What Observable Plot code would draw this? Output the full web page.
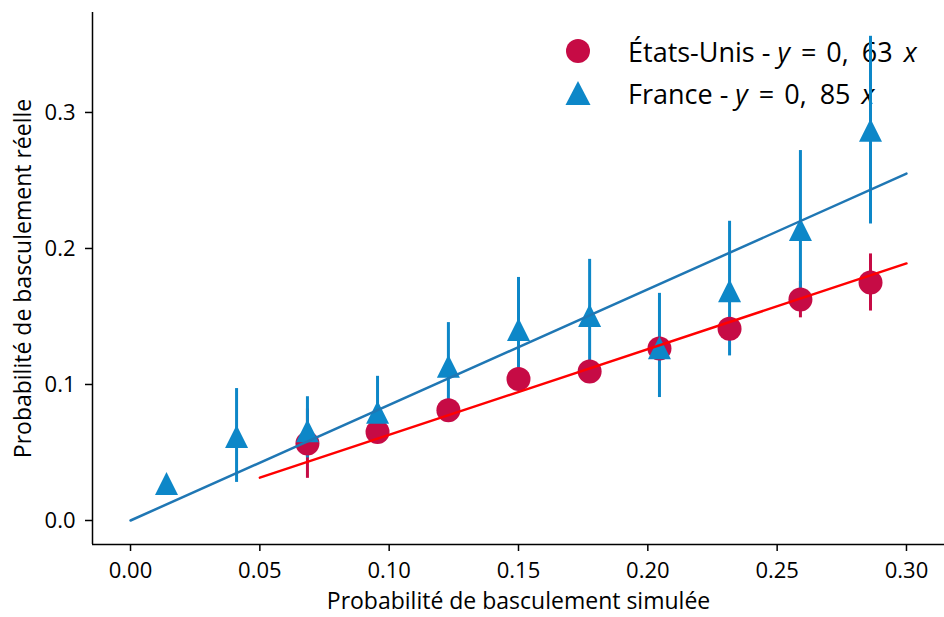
<!DOCTYPE html>
<html>
<head>
<meta charset="utf-8">
<script src="https://cdn.jsdelivr.net/npm/d3@7"></script>
<script src="https://cdn.jsdelivr.net/npm/@observablehq/plot@0.6"></script>
<style>
  body { margin: 0; background: #fff; }
  #wrap { position: relative; width: 944px; height: 617px; background: #fff; }
  #wrap > svg { position: absolute; left: 0; top: 0; z-index: 1; }
</style>
</head>
<body>
<div id="wrap"></div>
<script>
// ---- Data ----
const usX    = [0.0684, 0.0955, 0.1229, 0.1500, 0.1775, 0.2045, 0.2316, 0.2590, 0.2861];
const usY    = [0.0566, 0.0650, 0.0810, 0.1040, 0.1095, 0.1265, 0.1410, 0.1625, 0.1750];
const usLow  = [0.0310, 0.0580, 0.0740, 0.0970, 0.1020, 0.1190, 0.1330, 0.1490, 0.1540];
const usHigh = [0.0820, 0.0720, 0.0880, 0.1110, 0.1170, 0.1340, 0.1490, 0.1760, 0.1960];

const frX    = [0.0139, 0.0410, 0.0684, 0.0955, 0.1229, 0.1500, 0.1775, 0.2045, 0.2316, 0.2590, 0.2861];
const frY    = [0.0272, 0.0618, 0.0660, 0.0796, 0.1134, 0.1404, 0.1507, 0.1270, 0.1690, 0.2140, 0.2870];
const frLow  = [0.0272, 0.0280, 0.0460, 0.0566, 0.0868, 0.1020, 0.1100, 0.0904, 0.1210, 0.1650, 0.2180];
const frHigh = [0.0272, 0.0970, 0.0910, 0.1060, 0.1455, 0.1787, 0.1920, 0.1670, 0.2200, 0.2720, 0.3560];

// fitted lines (slopes 0.63 and 0.85)
const usFitX = [0.05, 0.30];
const usFitY = [0.0315, 0.189];
const frFitX = [0.00, 0.30];
const frFitY = [0.000, 0.255];

const xTicks = [0.00, 0.05, 0.10, 0.15, 0.20, 0.25, 0.30];
const yTicks = [0.0, 0.1, 0.2, 0.3];
const xDomain = [-0.0147, 0.3147];
const yDomain = [-0.01765, 0.3735];

const xLabel = "Probabilité de basculement simulée";
const yLabel = "Probabilité de basculement réelle";
const usName = "États-Unis";
const frName = "France";
const usSlope = ["0,", "63"];
const frSlope = ["0,", "85"];

const usColor = "#c60b45";
const frColor = "#0d87c8";
const usLineColor = "#ff0000";
const frLineColor = "#1f77b4";

// ---- tables ----
const usData = usX.map((x, i) => ({x, y: usY[i], lo: usLow[i], hi: usHigh[i]}));
const frData = frX.map((x, i) => ({x, y: frY[i], lo: frLow[i], hi: frHigh[i]}));
const usFit = usFitX.map((x, i) => ({x, y: usFitY[i]}));
const frFit = frFitX.map((x, i) => ({x, y: frFitY[i]}));

// matplotlib-like "^" marker (centred on its bounding box)
const mplTriangle = {
  draw(ctx, size) {
    const r = Math.sqrt(size / Math.PI);
    ctx.moveTo(0, -r);
    ctx.lineTo(r, r);
    ctx.lineTo(-r, r);
    ctx.closePath();
  }
};

const chart = Plot.plot({
  width: 944,
  height: 617,
  marginLeft: 92,
  marginRight: 0,
  marginTop: 12,
  marginBottom: 73,
  style: {fontFamily: "Open Sans", fontSize: "22px", color: "#000", background: "transparent", overflow: "visible"},
  x: {domain: xDomain},
  y: {domain: yDomain},
  marks: [
    Plot.ruleX([xDomain[0]], {stroke: "#000", strokeWidth: 1.5}),
    Plot.ruleY([yDomain[0]], {stroke: "#000", strokeWidth: 1.5}),
    Plot.axisX(xTicks, {tickSize: 7, tickPadding: 11, strokeWidth: 1.5, fontSize: 22, tickFormat: d => d.toFixed(2), label: null}),
    Plot.axisY(yTicks, {tickSize: 7, tickPadding: 10, strokeWidth: 1.5, fontSize: 22, tickFormat: d => d.toFixed(1), label: null}),
    Plot.text([xLabel], {frameAnchor: "bottom", text: d => d, dy: 57, lineAnchor: "middle", textAnchor: "middle", fontSize: 23, fill: "#000"}),
    Plot.text([yLabel], {frameAnchor: "left", text: d => d, rotate: -90, dx: -69, lineAnchor: "middle", textAnchor: "middle", fontSize: 23, fill: "#000"}),
    // error bars
    Plot.ruleX(usData, {x: "x", y1: "lo", y2: "hi", stroke: usColor, strokeWidth: 3}),
    Plot.ruleX(frData, {x: "x", y1: "lo", y2: "hi", stroke: frColor, strokeWidth: 3}),
    // markers
    Plot.dot(usData, {x: "x", y: "y", r: 12, fill: usColor, stroke: "none"}),
    Plot.dot(frData, {x: "x", y: "y", r: 11.5, symbol: mplTriangle, fill: frColor, stroke: "none"}),
    // fitted lines
    Plot.line(usFit, {x: "x", y: "y", stroke: usLineColor, strokeWidth: 2.5}),
    Plot.line(frFit, {x: "x", y: "y", stroke: frLineColor, strokeWidth: 2.5})
  ]
});

const wrap = document.getElementById("wrap");
wrap.appendChild(chart);

// legend (drawn underneath the chart SVG, as in the reference where the error bar crosses it)
const FS = "font-family:'Open Sans';font-size:27px;line-height:1;color:#000;";
function eqHtml(s) {
  return `<i style="font-style:italic">y</i><span style="margin:0 10px 0 11px">=</span>${s[0]}` +
         `<span style="margin-left:13px">${s[1]}</span><i style="font-style:italic;margin-left:11px">x</i>`;
}
function row(icon, name, s) {
  return `<div style="display:flex;align-items:center;height:42px;white-space:nowrap;">` +
    `<svg width="40" height="30" viewBox="-20 -15 40 30" style="flex:none;margin-right:30px">${icon}</svg>` +
    `<span style="${FS}">${name} - ${eqHtml(s)}</span></div>`;
}
const legend = document.createElement("div");
legend.setAttribute("style", `position:absolute;left:558px;top:30px;z-index:0;${FS}`);
legend.innerHTML =
  row(`<circle r="12" fill="${usColor}"/>`, usName, usSlope) +
  row(`<path d="M0,-12L12.5,12L-12.5,12Z" fill="${frColor}"/>`, frName, frSlope);
wrap.appendChild(legend);
</script>
</body>
</html>
